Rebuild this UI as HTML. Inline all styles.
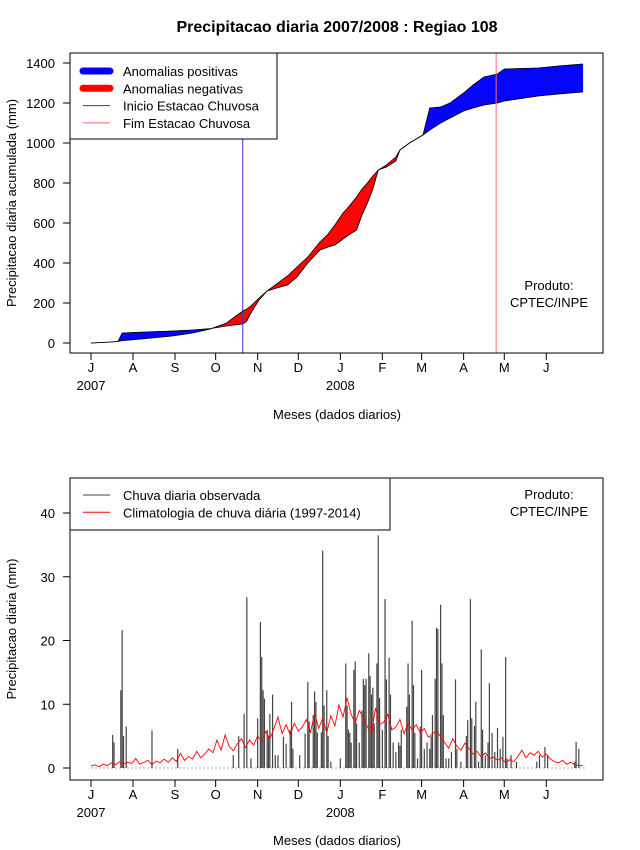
<!DOCTYPE html>
<html><head><meta charset="utf-8">
<style>
body{margin:0;background:#fff;}
svg{display:block;font-family:"Liberation Sans",Arial,sans-serif;}
</style></head>
<body>
<svg id="c" width="640" height="850" viewBox="0 0 640 850" xmlns="http://www.w3.org/2000/svg">
<rect width="640" height="850" fill="#fff"/>
<text x="337" y="32" text-anchor="middle" font-size="16" font-weight="bold">Precipitacao diaria 2007/2008 : Regiao 108</text>
<g id="topPanel"></g>
<g id="botPanel"></g>
</svg>
<script>
// ---- data ----
const monthLabels = ["J","A","S","O","N","D","J","F","M","A","M","J"];
const monthStartDays = [0,31,62,92,123,153,184,215,244,275,305,336];
const topYTicks = [0,200,400,600,800,1000,1200,1400];
const botYTicks = [0,10,20,30,40];
const cumDays = [0,15,20,23,40,60,75,88,100,108,112,115,118,124,130,137,145,152,160,169,175,180,186,190,196,200,204,208,212,218,225,228,235,245,250,258,265,275,282,290,300,305,330,345,363];
const cumObserved = [0,5,8,50,55,60,65,72,85,92,95,110,150,215,260,275,290,330,400,465,480,490,520,540,565,640,700,770,865,880,910,965,1000,1040,1175,1180,1200,1250,1290,1330,1345,1370,1375,1385,1395];
const cumClimatology = [0,5,8,12,22,35,50,70,100,140,160,170,185,225,260,295,335,380,430,505,545,590,650,680,730,770,800,835,865,890,930,965,1000,1040,1065,1100,1125,1160,1175,1190,1200,1210,1235,1245,1255];
const inicioDay = 112;
const fimDay = 299;
const rainDays = [16,17,22,23,24,26,45,64,105,109,113,115,118,123,125,126,127,128,130,131,132,134,136,138,142,144,147,148,149,154,158,160,161,164,165,166,167,170,171,172,174,175,177,184,188,189,190,191,192,194,195,196,198,200,201,202,203,205,206,207,208,209,211,212,213,215,217,218,220,221,223,225,227,228,229,233,234,235,237,238,239,241,243,244,246,248,250,251,252,254,255,256,258,259,260,262,264,266,269,270,273,277,278,280,281,283,284,286,288,289,291,293,294,296,298,300,302,304,306,307,310,314,329,331,335,337,357,358,360];
const rainValues = [5.2,4,12.2,21.6,5,6.5,5.9,3,2,5,8.5,26.8,1.5,7.8,22.9,17.4,12.2,10.9,6,5,8.5,11.5,2,2,4.9,3.8,6,10.4,3,2,5.4,13.5,7.3,8.3,12,10.4,5.6,5.6,34.1,9.8,12.2,5,1,1.5,16.4,9.8,6,5.5,4,15.4,16.7,7,4,9,14,13,14,18,14.4,11.5,12.6,7,16.4,36.5,11,6,26.5,13.9,17.3,11.5,4,2.5,4,3.5,6,9.6,16.4,11.5,23.1,13,5.5,1.5,6.5,15.4,3,4,3,5,8.3,14,22,21.8,25.6,16.4,8.3,1.5,1.5,2.5,13.9,3,1,5,7.5,26.5,7.8,6.6,10.4,1,18.6,6,2,4,13.3,5.5,2.5,6.3,3,4.9,17.4,1.5,2,1,1,2,3.3,2,1,4.1,3];
const climStepDays = 3;
const climDaily = [0.3,0.5,0.2,0.6,0.4,0.8,0.5,1.0,0.6,0.9,0.7,
1.5,0.6,0.9,1.2,0.5,1.1,0.8,1.4,0.9,1.6,
1.0,2.3,1.2,1.8,1.4,2.6,1.6,2.2,3.0,2.4,
4.4,2.8,5.2,3.4,2.7,3.8,4.6,3.2,4.4,3.6,
5.0,4.2,5.7,4.6,6.2,8.0,5.4,6.8,5.2,7.0,
5.8,6.4,7.6,5.6,8.6,6.2,7.8,5.5,8.2,6.6,
9.9,8.0,11.0,8.4,7.0,9.0,8.0,6.4,5.5,9.4,
6.8,7.2,8.4,6.0,6.4,7.6,5.4,7.0,6.0,6.8,
5.5,6.2,4.8,5.4,5.8,4.9,4.0,3.1,4.6,3.4,
2.8,3.9,3.0,2.2,2.6,1.7,2.4,1.5,1.7,1.2,
1.6,0.8,1.3,1.0,1.8,2.8,1.6,2.4,2.0,2.6,
1.7,2.2,1.4,1.0,0.8,1.2,0.6,0.9,0.5,0.4,0.4];

// ---- helpers ----
const NS="http://www.w3.org/2000/svg";
function mk(tag,attrs,parent,text){const e=document.createElementNS(NS,tag);for(const k in attrs)e.setAttribute(k,attrs[k]);if(text!==undefined)e.textContent=text;parent.appendChild(e);return e;}
const xDay=d=>91+d*1.355;
const yTop=v=>343-v*0.2;
const yBot=v=>768-v*6.375;
function interp(xs,ys,x){for(let i=0;i<xs.length-1;i++){if(x>=xs[i]&&x<=xs[i+1]){const t=(x-xs[i])/(xs[i+1]-xs[i]);return ys[i]+t*(ys[i+1]-ys[i]);}}return ys[ys.length-1];}

function axes(g,y0,y1,yScale,yTicks,xlabY,ylabel,ylabX){
  const box=mk('rect',{x:70,y:y0,width:533,height:y1-y0,fill:'none',stroke:'#000','stroke-width':1},g);
  
  
  monthStartDays.forEach((d,i)=>{
    const x=xDay(d);
    const t=mk('line',{x1:x,x2:x,y1:y1,y2:y1+7,stroke:'#000'},g);
    
    
    const l=mk('text',{x:x,y:y1+19,'text-anchor':'middle','font-size':13},g,monthLabels[i]);
    
    
  });
  const y7=mk('text',{x:xDay(0),y:y1+37,'text-anchor':'middle','font-size':13},g,'2007');
  
  
  const y8=mk('text',{x:xDay(184),y:y1+37,'text-anchor':'middle','font-size':13},g,'2008');
  
  
  yTicks.forEach(v=>{
    const y=yScale(v);
    const t=mk('line',{x1:63,x2:70,y1:y,y2:y,stroke:'#000'},g);
    
    
    const l=mk('text',{x:55,y:y+5,'text-anchor':'end','font-size':13},g,String(v));
    
    
  });
  const xt=mk('text',{x:337,y:xlabY,'text-anchor':'middle','font-size':13},g,'Meses (dados diarios)');
  
  
  const yt=mk('text',{x:0,y:0,'text-anchor':'middle','font-size':13,transform:`translate(16,${ylabX}) rotate(-90)`},g,ylabel);
  
  
}

// ---- top panel ----
const topG=document.getElementById('topPanel');
const fills=mk('g',{},topG);


const lastDay=cumDays[cumDays.length-1];
for(let d=0; d<lastDay; d+=0.5){
  const d2=Math.min(d+0.5,lastDay);
  const o1=interp(cumDays,cumObserved,d),o2=interp(cumDays,cumObserved,d2);
  const c1=interp(cumDays,cumClimatology,d),c2=interp(cumDays,cumClimatology,d2);
  const diff=(o1+o2)-(c1+c2);
  if(Math.abs(diff)<0.01)continue;
  const col=diff>0?'#0000ff':'#ff0000';
  const p=mk('polygon',{points:`${xDay(d)},${yTop(o1)} ${xDay(d2)},${yTop(o2)} ${xDay(d2)},${yTop(c2)} ${xDay(d)},${yTop(c1)}`,fill:col,stroke:col,'stroke-width':0.4},fills);
  
  
}
const pObs=cumDays.map((d,i)=>`${xDay(d)},${yTop(cumObserved[i])}`).join(' ');
const pCl=cumDays.map((d,i)=>`${xDay(d)},${yTop(cumClimatology[i])}`).join(' ');
const lo=mk('polyline',{points:pObs,fill:'none',stroke:'#000','stroke-width':0.8},topG);


const lc=mk('polyline',{points:pCl,fill:'none',stroke:'#000','stroke-width':0.8},topG);


const vi=mk('line',{x1:xDay(inicioDay),x2:xDay(inicioDay),y1:53,y2:353,stroke:'#3333cc','stroke-width':1},topG);


const vf=mk('line',{x1:xDay(fimDay),x2:xDay(fimDay),y1:53,y2:353,stroke:'#ff6666','stroke-width':1},topG);


axes(topG,53,353,yTop,topYTicks,419,'Precipitacao diaria acumulada (mm)',203);
const pr1=mk('text',{x:549,y:290,'text-anchor':'middle','font-size':13},topG,'Produto:');


const pr2=mk('text',{x:549,y:307,'text-anchor':'middle','font-size':13},topG,'CPTEC/INPE');


const lg=mk('g',{},topG);


mk('rect',{x:70,y:53,width:207,height:86,fill:'#fff',stroke:'#000'},lg);
const legItems=[['Anomalias positivas','#0000ff',7],['Anomalias negativas','#ff0000',7],['Inicio Estacao Chuvosa','#3333cc',1],['Fim Estacao Chuvosa','#ff6666',1]];
legItems.forEach((it,i)=>{
  const y=71+i*17.3;
  const e=mk('g',{},lg);
  
  
  mk('line',{x1:83,x2:110,y1:y,y2:y,stroke:it[1],'stroke-width':it[2],'stroke-linecap':it[2]>2?'round':'butt'},e);
  mk('text',{x:123,y:y+5,'font-size':13},e,it[0]);
});

// ---- bottom panel ----
const botG=document.getElementById('botPanel');
const base=mk('line',{x1:xDay(0),x2:xDay(365),y1:768,y2:768,stroke:'#999','stroke-width':0.8,'stroke-dasharray':'2,2'},botG);


const bars=mk('g',{},botG);


rainDays.forEach((d,i)=>{
  const b=mk('line',{x1:xDay(d),x2:xDay(d),y1:yBot(0),y2:yBot(rainValues[i]),stroke:'#444','stroke-width':1.2},bars);
  
  
});
const cp=climDaily.map((v,i)=>`${xDay(i*climStepDays)},${yBot(v)}`).join(' ');
const cl=mk('polyline',{points:cp,fill:'none',stroke:'#ff0000','stroke-width':0.9},botG);


axes(botG,478,780,yBot,botYTicks,845,'Precipitacao diaria (mm)',629);
const pb1=mk('text',{x:549,y:499,'text-anchor':'middle','font-size':13},botG,'Produto:');


const pb2=mk('text',{x:549,y:516,'text-anchor':'middle','font-size':13},botG,'CPTEC/INPE');


const lg2=mk('g',{},botG);


mk('rect',{x:70,y:478,width:320,height:52,fill:'#fff',stroke:'#000'},lg2);
[['Chuva diaria observada','#444'],['Climatologia de chuva diária (1997-2014)','#ff0000']].forEach((it,i)=>{
  const y=495+i*17.3;
  const e=mk('g',{},lg2);
  
  
  mk('line',{x1:83,x2:110,y1:y,y2:y,stroke:it[1],'stroke-width':1},e);
  mk('text',{x:123,y:y+5,'font-size':13},e,it[0]);
});
</script>
</body></html>
